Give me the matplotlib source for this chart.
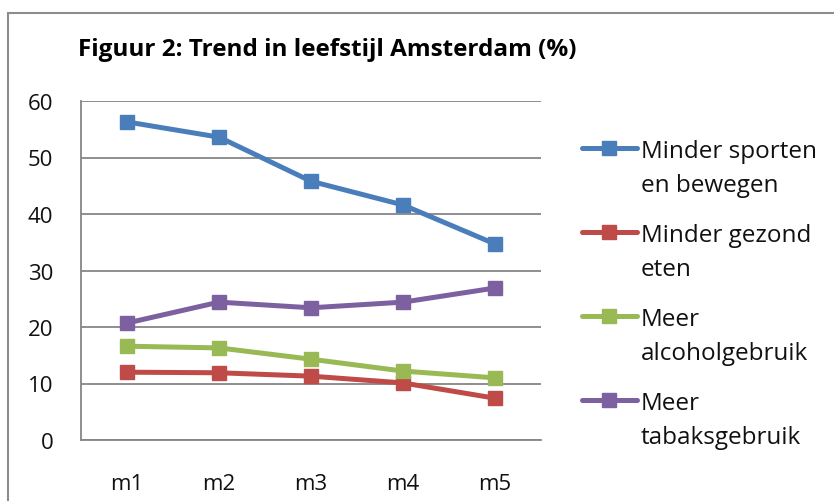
import matplotlib.pyplot as plt
from matplotlib.lines import Line2D
from matplotlib.patches import Rectangle

plt.rcParams['font.family'] = ['Open Sans', 'DejaVu Sans']

# waarden per meting
metingen = ["m1", "m2", "m3", "m4", "m5"]
sporten = [56.3, 53.6, 45.8, 41.6, 34.7]
gezond = [12.0, 11.9, 11.3, 10.1, 7.4]
alcohol = [16.6, 16.3, 14.3, 12.2, 11.0]
tabak = [20.7, 24.4, 23.4, 24.4, 26.9]

reeksen = [
    (sporten, ["Minder sporten", "en bewegen"], "#4A7EBB"),
    (gezond, ["Minder gezond", "eten"], "#BE4B48"),
    (alcohol, ["Meer", "alcoholgebruik"], "#98B954"),
    (tabak, ["Meer", "tabaksgebruik"], "#7D60A0"),
]

W, H = 834, 502
fig = plt.figure(figsize=(W / 100, H / 100), dpi=100)
ax = fig.add_axes([81 / W, 1 - 441 / H, 460 / W, 339 / H])

x = range(len(metingen))
for waarden, naam, kleur in reeksen:
    ax.plot(x, waarden, color=kleur, lw=3.6, marker='s', markersize=10.5,
            label=" ".join(naam), solid_capstyle='round')

ax.set_xlim(-0.5, len(metingen) - 0.5)
ax.set_ylim(0, 60)
ax.set_yticks(range(0, 61, 10))
ax.set_xticks(list(x))
ax.set_xticklabels(metingen)
ax.tick_params(length=0, labelsize=16, colors='#111111')
ax.tick_params(axis='y', pad=20)
ax.tick_params(axis='x', pad=24)
ax.grid(axis='y', color='#868686', lw=1.3)
ax.set_axisbelow(True)
for s in ['top', 'right']:
    ax.spines[s].set_visible(False)
for s in ['left', 'bottom']:
    ax.spines[s].set_color('#868686')
    ax.spines[s].set_linewidth(1.3)

fig.text(78 / W, 1 - 50 / H, "Figuur 2: Trend in leefstijl Amsterdam (%)",
         fontsize=17.5, fontweight='bold', va='center', ha='left')

# legenda rechts, handgemaakt zodat het symbool bij de eerste regel staat
for i, (waarden, naam, kleur) in enumerate(reeksen):
    y0 = 149 + 84 * i
    fig.add_artist(Line2D([582 / W, 637 / W], [1 - y0 / H] * 2, color=kleur,
                          lw=3.6, solid_capstyle='round',
                          transform=fig.transFigure))
    fig.add_artist(Line2D([609 / W], [1 - y0 / H], color=kleur, marker='s',
                          markersize=10.5, transform=fig.transFigure))
    for k, regel in enumerate(naam):
        fig.text(641 / W, 1 - (y0 + 9 + 34 * k) / H, regel, fontsize=17.5,
                 va='baseline', ha='left', color='#111111')

fig.patches.append(Rectangle((8 / W, -0.1), 1.0, 1.1 - 14 / H,
                             transform=fig.transFigure, fill=False,
                             edgecolor='#8c8c8c', lw=1.5))

fig.savefig("out.png", dpi=100)
